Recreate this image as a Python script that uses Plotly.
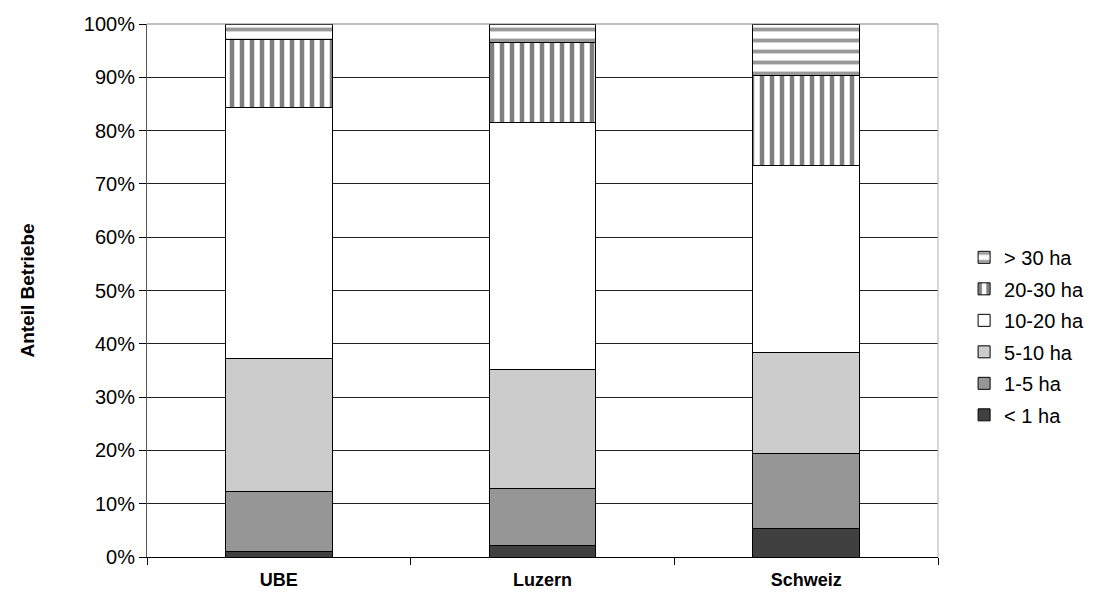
import plotly.graph_objects as go

# Data (share of farms by size class, percent)
regions = ["UBE", "Luzern", "Schweiz"]
classes = ["< 1 ha", "1-5 ha", "5-10 ha", "10-20 ha", "20-30 ha", "> 30 ha"]
lt1 = [1.1, 2.2, 5.3]
ha1_5 = [11.1, 10.6, 14.2]
ha5_10 = [25.1, 22.3, 18.8]
ha10_20 = [47.1, 46.5, 35.1]
ha20_30 = [12.6, 14.9, 17.0]
gt30 = [3.0, 3.5, 9.6]

series = [lt1, ha1_5, ha5_10, ha10_20, ha20_30, gt30]
fills = ["#404040", "#969696", "#cccccc", "#ffffff", "#ffffff", "#ffffff"]
patterns = [None, None, None, None,
            dict(shape="|", fgcolor="#000000", bgcolor="#ffffff", size=10, solidity=0.45, fillmode="overlay"),
            dict(shape="-", fgcolor="#333333", bgcolor="#ffffff", size=11, solidity=0.35, fillmode="overlay")]

FONT = "Liberation Sans, Arial, sans-serif"

fig = go.Figure()
for i, (name, vals, col, pat) in enumerate(zip(classes, series, fills, patterns)):
    marker = dict(color=col, line=dict(color="#000000", width=1))
    if pat:
        marker["pattern"] = pat
    # largest class on top of the legend
    fig.add_trace(go.Bar(x=regions, y=vals, name=name, marker=marker, width=0.405,
                         legendgroup="g%d" % i, legendrank=100 * (len(classes) - i)))

# the page body has an 8px margin, so the figure is offset by 8px
fig.update_layout(
    barmode="stack",
    width=1095, height=589,
    margin=dict(l=139, r=165, t=16, b=40),
    paper_bgcolor="white", plot_bgcolor="white",
    font=dict(family=FONT, size=20, color="#000000"),
    showlegend=True,
    legend=dict(x=1.033, y=0.414, yanchor="middle", xanchor="left",
                traceorder="grouped", font=dict(size=20),
                itemwidth=30, tracegroupgap=2.5),
)
fig.update_xaxes(
    type="category", tickson="boundaries", ticks="outside", ticklen=7,
    tickcolor="#000000", showline=True, linecolor="#000000", linewidth=1,
    tickfont=dict(size=18, family=FONT), automargin=False, ticklabelstandoff=6,
    ticktext=["<b>" + r + "</b>" for r in regions], tickvals=regions,
    showgrid=False, range=[-0.5, 2.5],
)
fig.update_yaxes(
    range=[0, 100], dtick=10, ticksuffix="%", ticks="outside", ticklen=7,
    tickcolor="#000000", showline=True, linecolor="#555555", linewidth=1,
    gridcolor="#222222", gridwidth=1, automargin=False,
    tickfont=dict(size=20, family=FONT),
    title=dict(text="<b>Anteil Betriebe</b>", font=dict(size=19), standoff=44),
    zeroline=False,
)
# plot area border (top and right)
fig.add_shape(type="line", xref="paper", yref="paper", x0=0, x1=1, y0=1, y1=1,
              line=dict(color="#808080", width=1))
fig.add_shape(type="line", xref="paper", yref="paper", x0=1, x1=1, y0=0, y1=1,
              line=dict(color="#b0b0b0", width=1))

fig.write_html("out.html")
